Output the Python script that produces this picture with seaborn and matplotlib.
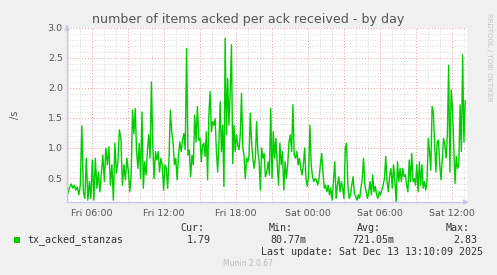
import matplotlib
matplotlib.use("Agg")
import numpy as np
import pandas as pd
import seaborn as sns
import matplotlib.pyplot as plt
import matplotlib.dates as mdates
import matplotlib.ticker as mticker
from matplotlib.patches import Rectangle

# ---------------- data ----------------
title = "number of items acked per ack received - by day"
series_name = "tx_acked_stanzas"
y_label = "/s"

seg_starts = ["2025-12-12 03:55", "2025-12-12 09:10", "2025-12-12 14:55",
              "2025-12-12 20:35", "2025-12-13 02:15", "2025-12-13 07:55"]
seg_ends = ["2025-12-12 09:03", "2025-12-12 14:48", "2025-12-12 20:28",
            "2025-12-13 02:08", "2025-12-13 07:48", "2025-12-13 13:07"]

seg1 = [0.2, 0.27, 0.35, 0.4, 0.33, 0.38, 0.3, 0.35, 0.22, 0.38, 1.37, 0.27, 0.16, 0.83,
        0.13, 0.44, 0.16, 0.8, 0.13, 0.83, 0.33, 0.6, 0.27, 0.58, 0.88, 0.44, 1.0, 0.72,
        1.02, 0.38, 0.72, 0.13, 1.08, 0.58, 0.77, 1.3, 1.16, 0.38, 0.72, 0.47, 0.83, 0.6]
seg2 = [0.27, 0.55, 1.63, 1.24, 1.66, 0.94, 0.66, 1.08, 0.49, 1.6, 0.33, 0.77, 0.55, 0.94,
        1.22, 0.83, 2.1, 1.05, 0.49, 0.94, 0.8, 0.94, 0.6, 0.83, 0.72, 0.3, 0.72, 0.66, 0.33,
        0.83, 1.63, 1.27, 1.1, 0.72, 0.83, 0.47, 0.88, 1.1, 0.94, 1.13, 1.24, 0.97, 2.66,
        0.88, 0.97, 0.52, 0.88, 0.72, 1.55, 1.1, 1.69]
seg3 = [1.13, 1.16, 0.77, 1.05, 1.08, 0.86, 1.27, 0.47, 1.55, 1.94, 1.27, 1.44, 1.38, 1.49,
        0.94, 0.6, 1.05, 1.77, 0.94, 1.38, 0.36, 2.83, 1.22, 2.16, 1.38, 1.94, 2.72, 0.74,
        1.38, 0.94, 1.22, 1.05, 0.97, 1.22, 1.91, 1.0, 0.88, 0.49, 0.83, 0.77, 0.88, 1.58,
        1.1, 0.83, 0.66, 0.83, 1.44, 0.94, 0.77, 0.3, 1.0, 0.83, 0.91, 0.52]
seg4 = [0.6, 0.77, 0.55, 1.66, 0.49, 1.27, 0.83, 1.16, 0.72, 0.38, 1.08, 0.72, 0.94, 0.3,
        0.77, 0.49, 0.72, 1.1, 1.22, 0.94, 1.72, 0.88, 0.83, 0.94, 0.72, 0.83, 0.66, 0.55,
        0.72, 1.0, 0.49, 0.36, 0.55, 1.38, 0.72, 0.52, 0.44, 0.49, 0.47, 0.38, 0.49, 0.72,
        0.91, 0.6, 0.33, 0.38, 0.27, 0.38, 0.22, 0.33, 0.13, 0.44]
seg5 = [0.77, 0.16, 0.38, 0.52, 0.27, 0.44, 0.33, 0.16, 1.0, 1.08, 0.38, 0.16, 0.22, 0.38,
        0.52, 0.24, 0.19, 0.13, 0.22, 0.16, 0.33, 0.49, 0.83, 0.38, 0.27, 0.16, 0.27, 0.44,
        0.22, 0.55, 0.27, 0.36, 0.22, 0.16, 0.27, 0.22, 0.3, 0.38, 0.49, 0.86, 0.44, 0.27,
        0.55, 0.66, 0.33, 0.72, 0.44, 0.1, 0.77, 0.44, 0.66, 0.44]
seg6 = [0.66, 0.52, 0.55, 0.38, 0.27, 0.8, 0.44, 0.91, 0.44, 0.49, 0.38, 0.72, 0.27, 0.77,
        0.38, 0.72, 0.33, 0.44, 0.3, 0.44, 1.16, 0.94, 0.63, 1.69, 1.6, 1.05, 0.6, 1.1, 1.13,
        0.72, 0.47, 0.83, 1.16, 1.05, 0.83, 1.22, 2.38, 0.6, 1.97, 1.66, 1.05, 0.41, 0.86,
        0.66, 0.72, 1.72, 0.94, 2.55, 1.1, 1.79]

legend_headers = ["Cur:", "Min:", "Avg:", "Max:"]
legend_values = ["1.79", "80.77m", "721.05m", "2.83"]
last_update = "Last update: Sat Dec 13 13:10:09 2025"
footer = "Munin 2.0.67"
side_text = "RRDTOOL / TOBI OETIKER"

x_start = "2025-12-12 03:56"
x_end = "2025-12-13 13:16"
y_min, y_max = 0.1, 3.0

# ---------------- build frame ----------------
segments = [seg1, seg2, seg3, seg4, seg5, seg6]
frames = []
for s, e, v in zip(seg_starts, seg_ends, segments):
    frames.append(pd.DataFrame({"time": pd.date_range(s, e, periods=len(v)), "value": v}))
df = pd.concat(frames, ignore_index=True)

# ---------------- style ----------------
sns.set_theme(style="white")
plt.rcParams["font.family"] = ["DejaVu Sans"]

W, H = 497, 275
fig = plt.figure(figsize=(W / 100, H / 100), dpi=100, facecolor="#F0F0F0")
ax = fig.add_axes([67 / W, 1 - 202 / H, 400 / W, 174 / H])
ax.set_facecolor("white")

sns.lineplot(data=df, x="time", y="value", ax=ax, color="#00CC00", linewidth=1.0)

ax.set_xlim(pd.Timestamp(x_start), pd.Timestamp(x_end))
ax.set_ylim(y_min, y_max)

# grid / ticks
ax.yaxis.set_major_locator(mticker.MultipleLocator(0.5))
ax.yaxis.set_minor_locator(mticker.MultipleLocator(0.1))
ax.yaxis.set_major_formatter(mticker.FormatStrFormatter("%.1f"))
ax.xaxis.set_major_locator(mdates.HourLocator(byhour=range(0, 24, 3)))
ax.xaxis.set_minor_locator(mdates.HourLocator())


def xfmt(x, pos):
    d = mdates.num2date(x)
    if d.hour % 6 == 0:
        return d.strftime("%a %H:%M")
    return ""


ax.xaxis.set_major_formatter(mticker.FuncFormatter(xfmt))

ax.grid(which="minor", color="#cfcfcf", linestyle=(0, (1, 2)), linewidth=0.6)
ax.grid(which="major", color="#e8a0a0", linestyle=(0, (1, 2)), linewidth=0.7)
ax.set_axisbelow(True)

for side in ["top", "right"]:
    ax.spines[side].set_visible(False)
for side in ["left", "bottom"]:
    ax.spines[side].set_color("#c8c8e6")
    ax.spines[side].set_linewidth(1.0)

ax.tick_params(axis="both", which="major", length=2, width=0.8, color="#e8a0a0",
               labelsize=6.8, labelcolor="#555555", pad=2, direction="inout")
ax.tick_params(axis="both", which="minor", length=2, width=0.6, color="#c0c0c0",
               direction="inout")
ax.tick_params(axis="x", which="major", pad=4)

ax.set_xlabel("")
ax.set_ylabel(y_label, fontsize=7, color="#555555", labelpad=20)

# axis arrows
ax.annotate("", xy=(0, 1.035), xytext=(0, 0.99), xycoords="axes fraction",
            arrowprops=dict(arrowstyle="-|>", color="#c8c8e6", lw=1, mutation_scale=7),
            annotation_clip=False)
ax.annotate("", xy=(1.012, 0), xytext=(0.99, 0), xycoords="axes fraction",
            arrowprops=dict(arrowstyle="-|>", color="#c8c8e6", lw=1, mutation_scale=7),
            annotation_clip=False)

# title
fig.text(248 / W, 1 - 19 / H, title, ha="center", va="center", fontsize=9.1, color="#555555")

# side text
fig.text(489 / W, 1 - 13 / H, side_text, ha="center", va="top", rotation=270,
         fontsize=5.0, color="#c4c4c4")

# legend
mono = "DejaVu Sans Mono"
fig.patches.append(Rectangle((14 / W, 1 - 243 / H), 6 / W, 6 / H, transform=fig.transFigure,
                             facecolor="#00CC00", edgecolor="none"))
fig.text(27 / W, 1 - 240 / H, series_name, ha="left", va="center", fontsize=7.2,
         family=mono, color="#333333")
header_right = [204, 293, 381, 470]
value_right = [211, 306, 394, 477]
for hx, h in zip(header_right, legend_headers):
    fig.text(hx / W, 1 - 228 / H, h, ha="right", va="center", fontsize=7.2, family=mono,
             color="#333333")
for vx, v in zip(value_right, legend_values):
    fig.text(vx / W, 1 - 240 / H, v, ha="right", va="center", fontsize=7.2, family=mono,
             color="#333333")
fig.text(483 / W, 1 - 252 / H, last_update, ha="right", va="center", fontsize=7.2,
         family=mono, color="#333333")
fig.text(248 / W, 1 - 264 / H, footer, ha="center", va="center", fontsize=5.5,
         color="#bbbbbb")

fig.savefig("out.png", dpi=100, facecolor=fig.get_facecolor())
